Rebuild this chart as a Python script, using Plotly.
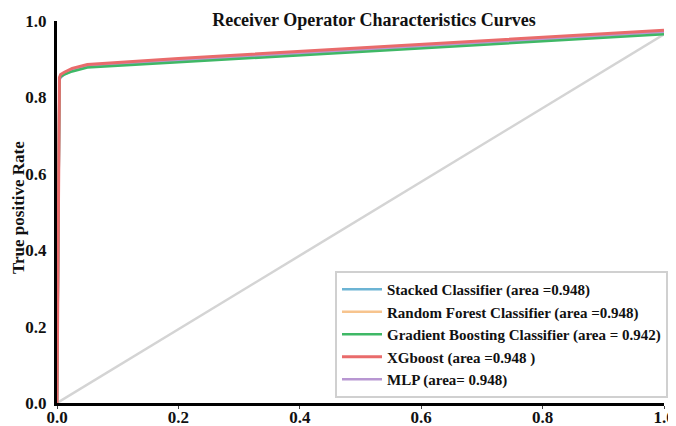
import plotly.graph_objects as go

fpr = [0.0, 0.002, 0.004, 0.006, 0.012, 0.025, 0.05, 0.2, 0.4, 0.6, 0.8, 1.0]
tpr_stacked = [0.0, 0.36, 0.85, 0.856, 0.862, 0.872, 0.884, 0.898, 0.916, 0.935, 0.953, 0.972]
tpr_rf = [0.0, 0.36, 0.85, 0.856, 0.862, 0.872, 0.884, 0.898, 0.916, 0.935, 0.953, 0.972]
tpr_gb = [0.0, 0.36, 0.848, 0.854, 0.86, 0.868, 0.878, 0.892, 0.91, 0.928, 0.946, 0.965]
tpr_xgb = [0.0, 0.37, 0.852, 0.86, 0.866, 0.876, 0.886, 0.902, 0.92, 0.939, 0.957, 0.976]
tpr_mlp = [0.0, 0.37, 0.845, 0.852, 0.86, 0.87, 0.882, 0.897, 0.915, 0.934, 0.952, 0.971]
diag_x = [0.0, 1.0]
diag_y = [0.0, 0.965]

names = ["Stacked Classifier (area =0.948)",
         "Random Forest Classifier (area =0.948)",
         "Gradient Boosting Classifier (area = 0.942)",
         "XGboost (area =0.948 )",
         "MLP (area= 0.948)"]
colors = ["#6cb4d4", "#f7c48e", "#3fb866", "#e96b6b", "#b897d2"]
series = [tpr_stacked, tpr_rf, tpr_gb, tpr_xgb, tpr_mlp]
ranks = [1, 2, 3, 4, 5]
order = [0, 1, 4, 2, 3]
tick_vals = [0, 0.2, 0.4, 0.6, 0.8, 1.0]
tick_text = ["0.0", "0.2", "0.4", "0.6", "0.8", "1.0"]

serif = "Liberation Serif, Times New Roman, Times, serif"
W, H = 668, 418
L, R, T, B = 49, 12, 13, 23
pw, ph = W - L - R, H - T - B

fig = go.Figure()
fig.add_trace(go.Scatter(x=diag_x, y=diag_y, mode="lines",
                         line=dict(color="#d4d4d4", width=2.5), showlegend=False))
for i in order:
    fig.add_trace(go.Scatter(x=fpr, y=series[i], mode="lines", name="<b>" + names[i] + "</b>",
                             legendrank=ranks[i],
                             line=dict(color=colors[i], width=3 if i == 3 else 2.5)))

fig.update_layout(
    width=W, height=H,
    margin=dict(l=L, r=R, t=T, b=B, autoexpand=False),
    paper_bgcolor="white", plot_bgcolor="white",
    font=dict(family=serif),
    title=dict(text="<b>Receiver Operator Characteristics Curves</b>",
               font=dict(family=serif, size=18, color="#111"),
               x=366 / W, xanchor="center", y=1 - 12 / H, yanchor="middle", yref="container"),
    legend=dict(x=(660 - L) / pw, xanchor="right", y=(H - B - 390) / ph, yanchor="bottom",
                bgcolor="white", bordercolor="#d0d0d0", borderwidth=2,
                font=dict(family=serif, size=15, color="#111"),
                tracegroupgap=0, itemwidth=40),
    showlegend=True,
)
fig.update_xaxes(range=[0, 1], tickvals=tick_vals,
                 ticktext=["<b>" + t + "</b>" for t in tick_text],
                 showgrid=False, zeroline=False, showline=True, linecolor="black", linewidth=3,
                 ticks="outside", ticklen=3, tickcolor="#444", automargin=False,
                 ticklabelstandoff=-6,
                 tickfont=dict(family=serif, size=17, color="#111"))
fig.update_yaxes(range=[0, 1], tickvals=tick_vals,
                 ticktext=["<b>" + t + "</b>" for t in tick_text],
                 showgrid=False, zeroline=False, showline=True, linecolor="black", linewidth=3,
                 ticks="", ticklabelstandoff=4, automargin=False,
                 tickfont=dict(family=serif, size=17, color="#111"))
fig.add_annotation(text="<b>True positive Rate</b>", textangle=-90, xref="paper", yref="paper",
                   x=(10 - L) / pw, y=(H - B - 200) / ph, showarrow=False,
                   xanchor="center", yanchor="middle",
                   font=dict(family=serif, size=17, color="#111"))

fig.write_html("out.html")
